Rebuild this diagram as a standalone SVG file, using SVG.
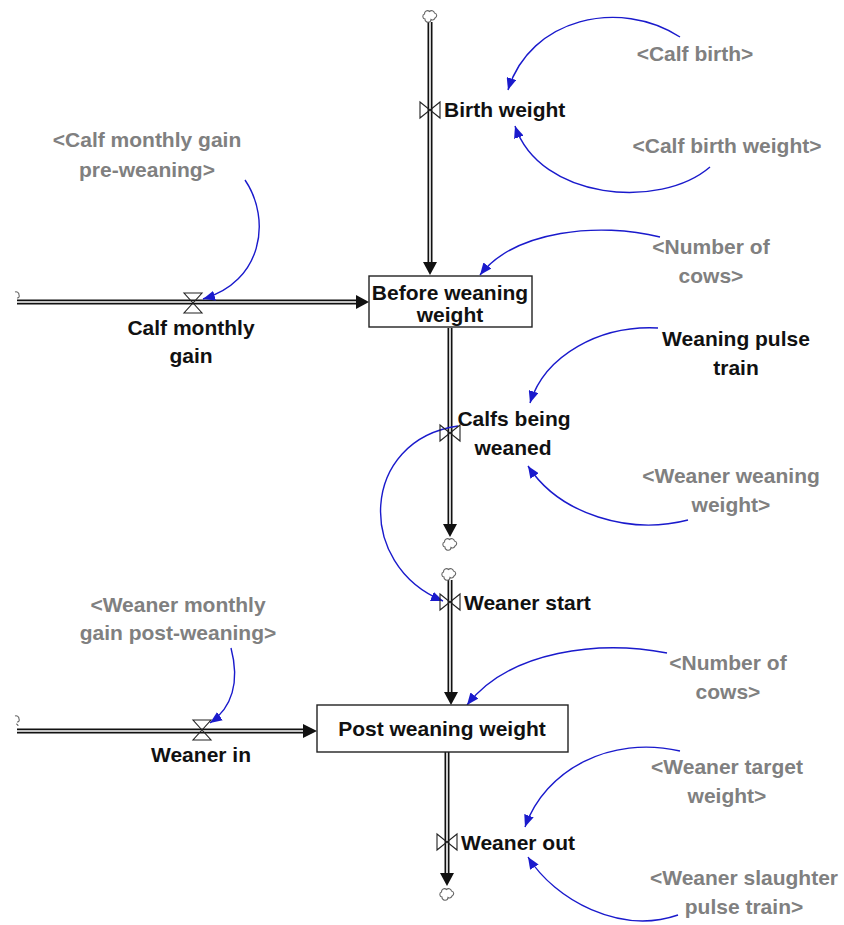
<svg xmlns="http://www.w3.org/2000/svg" width="844" height="925" viewBox="0 0 844 925">
<style>
text{font-family:"Liberation Sans",Arial,sans-serif;font-weight:bold;font-size:21px}
.n{fill:#111}
.g{fill:#808080}
.c{text-anchor:middle}
.pipeO{stroke:#111;stroke-width:5;fill:none}
.pipeI{stroke:#fff;stroke-width:1.6;fill:none}
.arr{fill:#111}
.lnk{stroke:#1a1acc;stroke-width:1.4;fill:none;marker-end:url(#ba)}
.valve{fill:none;stroke:#222;stroke-width:1.1}
.cloud{fill:none;stroke:#666;stroke-width:1.1}
.stock{fill:#fff;stroke:#222;stroke-width:1.4}
</style>
<defs>
<marker id="ba" markerUnits="userSpaceOnUse" markerWidth="14" markerHeight="10" refX="12" refY="5" orient="auto">
<path d="M0,0 L12,5 L0,10 z" fill="#1a1acc"/>
</marker>
<symbol id="cl" overflow="visible">
<path class="cloud" d="M-5,3 a2.6,2.6 0 0 1 -0.5,-5 a3,3 0 0 1 5,-2.5 a3,3 0 0 1 5,1.5 a2.6,2.6 0 0 1 0.5,5 a2.6,2.6 0 0 1 -4,1.5 a2.6,2.6 0 0 1 -6,-0.5 z"/>
</symbol>
<symbol id="vh" overflow="visible">
<path class="valve" d="M-10,-8 L0,0 L-10,8 Z M10,-8 L0,0 L10,8 Z"/>
</symbol>
<symbol id="vv" overflow="visible">
<path class="valve" d="M-9,-10 L9,-10 L0,0 Z M-9,10 L9,10 L0,0 Z"/>
</symbol>
</defs>

<g id="connectors">
<!-- flow pipes -->
<path class="pipeO" d="M430,22 V262"/><path class="pipeI" d="M430,22 V262"/>
<polygon class="arr" points="423,262 437,262 430,275"/>
<path class="pipeO" d="M17,302 H356"/><path class="pipeI" d="M17,302 H356"/>
<polygon class="arr" points="356,295 356,309 369,302"/>
<path class="pipeO" d="M450,328 V524"/><path class="pipeI" d="M450,328 V524"/>
<polygon class="arr" points="443,524 457,524 450,537"/>
<path class="pipeO" d="M450,580 V692"/><path class="pipeI" d="M450,580 V692"/>
<polygon class="arr" points="444,692 458,692 451,705"/>
<path class="pipeO" d="M17,731 H303"/><path class="pipeI" d="M17,731 H303"/>
<polygon class="arr" points="303,724 303,738 317,731"/>
<path class="pipeO" d="M447,752 V873"/><path class="pipeI" d="M447,752 V873"/>
<polygon class="arr" points="440,873 454,873 447,886"/>
<!-- info links -->
<path class="lnk" d="M680,37 C620,-2 530,18 508,90"/>
<path class="lnk" d="M710,167 C660,210 540,200 515,126"/>
<path class="lnk" d="M245,180 C272,220 262,282 203,299"/>
<path class="lnk" d="M660,237 C600,222 515,230 480,275"/>
<path class="lnk" d="M658,328 C600,325 545,355 530,403"/>
<path class="lnk" d="M688,520 C630,535 560,515 528,466"/>
<path class="lnk" d="M458,426 C360,440 355,565 443,601"/>
<path class="lnk" d="M231,648 C240,682 232,708 210,723"/>
<path class="lnk" d="M667,653 C600,640 510,650 467,705"/>
<path class="lnk" d="M680,751 C610,735 545,770 525,827"/>
<path class="lnk" d="M678,915 C620,935 555,900 528,857"/>
</g>

<g id="cloud-top"><use href="#cl" x="430" y="16"/></g>
<g id="cloud-left1"><path class="cloud" d="M15,292 a3,3 0 0 1 4,3 a2,2 0 0 1 -2,3"/></g>
<g id="cloud-mid1"><use href="#cl" x="450" y="544"/></g>
<g id="cloud-mid2"><use href="#cl" x="449" y="574"/></g>
<g id="cloud-left2"><path class="cloud" d="M15,716 a3,3 0 0 1 4,3 a2,2 0 0 1 -2,3 M16,724 a2,2 0 0 1 2,2"/></g>
<g id="cloud-bottom"><use href="#cl" x="447" y="894"/></g>

<g id="birth-weight">
<use href="#vh" x="430" y="110"/>
<text class="n" x="444" y="117">Birth weight</text>
</g>
<g id="calf-monthly-gain">
<use href="#vv" x="193" y="303"/>
<text class="n c" x="191" y="335">Calf monthly</text>
<text class="n c" x="191" y="363">gain</text>
</g>
<g id="before-weaning-weight">
<rect class="stock" x="369" y="276" width="163" height="51"/>
<text class="n c" x="450" y="300">Before weaning</text>
<text class="n c" x="450" y="322">weight</text>
</g>
<g id="calfs-being-weaned">
<use href="#vh" x="450" y="433"/>
<text class="n c" x="514" y="426">Calfs being</text>
<text class="n c" x="513" y="455">weaned</text>
</g>
<g id="weaner-start">
<use href="#vh" x="450" y="602"/>
<text class="n" x="464" y="610">Weaner start</text>
</g>
<g id="weaner-in">
<use href="#vv" x="202" y="730"/>
<text class="n c" x="201" y="762">Weaner in</text>
</g>
<g id="post-weaning-weight">
<rect class="stock" x="317" y="705" width="251" height="47"/>
<text class="n c" x="442" y="736">Post weaning weight</text>
</g>
<g id="weaner-out">
<use href="#vh" x="447" y="842"/>
<text class="n" x="461" y="850">Weaner out</text>
</g>

<g id="calf-birth"><text class="g c" x="695" y="61">&lt;Calf birth&gt;</text></g>
<g id="calf-birth-weight"><text class="g c" x="727" y="153">&lt;Calf birth weight&gt;</text></g>
<g id="calf-monthly-gain-pre">
<text class="g c" x="147" y="147">&lt;Calf monthly gain</text>
<text class="g c" x="147" y="177">pre-weaning&gt;</text>
</g>
<g id="number-of-cows-1">
<text class="g c" x="711" y="254">&lt;Number of</text>
<text class="g c" x="711" y="283">cows&gt;</text>
</g>
<g id="weaning-pulse-train">
<text class="n c" x="736" y="346">Weaning pulse</text>
<text class="n c" x="736" y="375">train</text>
</g>
<g id="weaner-weaning-weight">
<text class="g c" x="731" y="483">&lt;Weaner weaning</text>
<text class="g c" x="731" y="512">weight&gt;</text>
</g>
<g id="weaner-monthly-gain">
<text class="g c" x="178" y="612">&lt;Weaner monthly</text>
<text class="g c" x="178" y="640">gain post-weaning&gt;</text>
</g>
<g id="number-of-cows-2">
<text class="g c" x="728" y="670">&lt;Number of</text>
<text class="g c" x="728" y="699">cows&gt;</text>
</g>
<g id="weaner-target-weight">
<text class="g c" x="727" y="774">&lt;Weaner target</text>
<text class="g c" x="727" y="803">weight&gt;</text>
</g>
<g id="weaner-slaughter">
<text class="g c" x="744" y="885">&lt;Weaner slaughter</text>
<text class="g c" x="744" y="914">pulse train&gt;</text>
</g>
</svg>
